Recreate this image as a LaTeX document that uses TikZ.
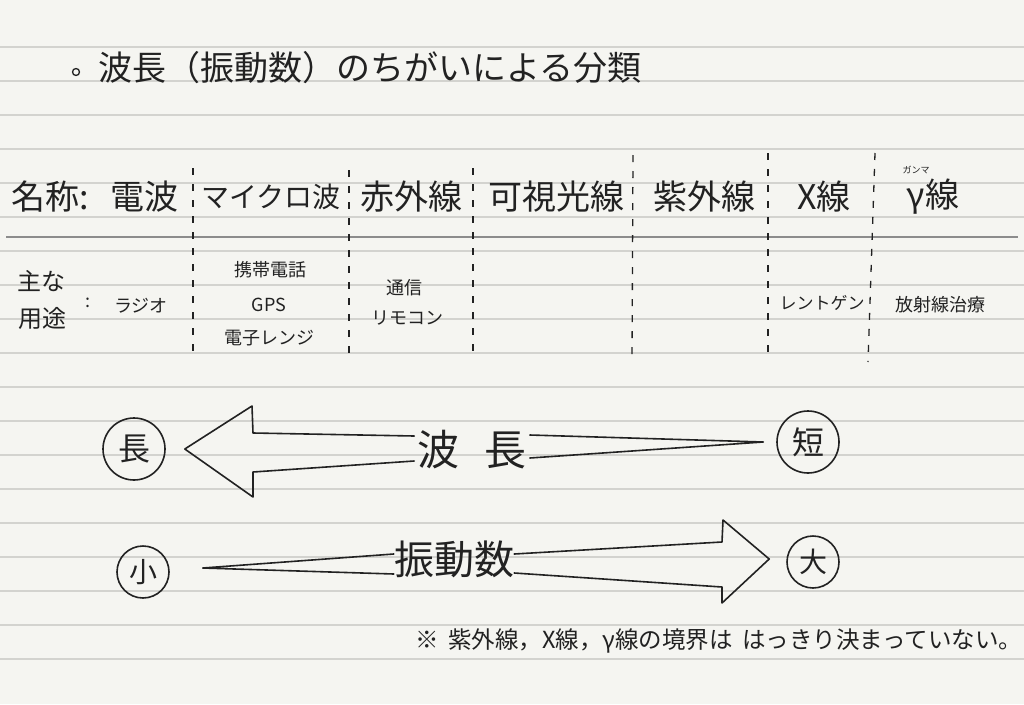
\documentclass[tikz,border=0pt]{standalone}
\usepackage{fontspec}
\setmainfont{Noto Sans CJK JP}
\definecolor{paper}{HTML}{F5F5F1}
\definecolor{ruling}{HTML}{D3D3CF}
\definecolor{ink}{HTML}{222222}

\begin{document}
\begin{tikzpicture}[x=1pt,y=-1pt,
  pen/.style={draw=ink,line width=1.6pt,line join=round,line cap=round},
  head/.style={text=ink,inner sep=0pt,font=\fontsize{34}{40}\selectfont},
  usage/.style={text=ink,inner sep=0pt,font=\fontsize{18}{22}\selectfont},
  ring/.style={circle,pen,inner sep=0pt,minimum size=62pt,text=ink,font=\fontsize{32}{34}\selectfont},
  big/.style={text=ink,inner ysep=0pt,font=\fontsize{42}{46}\selectfont}]

  % paper
  \fill[paper] (0,0) rectangle (1024,704);
  \useasboundingbox (0,0) rectangle (1024,704);
  \foreach \k in {0,...,18}
    \draw[ruling,line width=1.2pt] (0,{47+34*\k}) -- (1024,{47+34*\k});

  % title
  \node[circle,draw=ink,line width=1.3pt,minimum size=7pt,inner sep=0pt] (bullet) at (76,72) {};
  \node[anchor=west,text=ink,inner sep=0pt,font=\fontsize{34}{38}\selectfont] (title) at (98,68) {波長（振動数）のちがいによる分類};

  % table
  \draw[color=black!45,line width=2pt] (6,237) -- (1018,237);
  \foreach \xa/\ya/\xb/\yb in {193/168/193/353, 349/170/349/357, 473/168/473/355,
                               633/155/632/360, 768/153/768/355, 875/153/868/362}
    \draw[ink,line width=1.3pt,dash pattern=on 7pt off 9pt] (\xa,\ya) -- (\xb,\yb);

  \node[head] (name) at (50,197) {名称:};
  \node[head] (radio) at (144,197) {電波};
  \node[head,font=\fontsize{28}{32}\selectfont] (micro) at (271,197) {マイクロ波};
  \node[head] (ir) at (411,197) {赤外線};
  \node[head] (vis) at (556,197) {可視光線};
  \node[head] (uv) at (704,197) {紫外線};
  \node[head] (xray) at (824,197) {X線};
  \node[head] (gamma) at (933,197) {γ線};
  \node[usage,font=\fontsize{9}{10}\selectfont] (gruby) at (916,170) {ガンマ};

  \node[usage,font=\fontsize{24}{26}\selectfont] (main) at (41,281) {主な};
  \node[usage,font=\fontsize{24}{26}\selectfont] (purpose) at (42,318) {用途};
  \node[usage] (colon) at (88,303) {:};
  \node[usage] (radiouse) at (141,306) {ラジオ};
  \node[usage] (phone) at (270,270) {携帯電話};
  \node[usage] (gps) at (269,305) {GPS};
  \node[usage] (oven) at (269,338) {電子レンジ};
  \node[usage] (comm) at (404,288) {通信};
  \node[usage] (remote) at (407,318) {リモコン};
  \node[usage,font=\fontsize{17}{20}\selectfont] (xuse) at (822,303) {レントゲン};
  \node[usage] (gammause) at (940,305) {放射線治療};

  % wavelength / frequency
  \node[ring] (long) at (134,449) {長};
  \node[ring] (short) at (808,442) {短};
  \node[ring,minimum size=52pt,font=\fontsize{28}{30}\selectfont] (low) at (143,572) {小};
  \node[ring,minimum size=52pt,font=\fontsize{28}{30}\selectfont] (high) at (813,562) {大};

  \node[big,inner xsep=3pt] (wavelen) at (472,450) {波\hspace{0.6em}長};
  \node[big,inner xsep=0pt,font=\fontsize{40}{44}\selectfont] (freq) at (454,559) {振動数};

  \draw[pen] ([yshift=14]wavelen.west) -- (253,433) -- (252,406) -- ([xshift=19]long.east)
    -- (253,497) -- (253,472) -- ([yshift=-11]wavelen.west);
  \draw[pen] ([yshift=15]wavelen.east) -- ([xshift=-13]short.west) -- ([yshift=-8]wavelen.east);

  \draw[pen] ([yshift=5]freq.west) -- ([xshift=33,yshift=4]low.east) -- ([yshift=-15]freq.west);
  \draw[pen] ([yshift=5]freq.east) -- (722,542) -- (723,520) -- ([xshift=-17,yshift=3]high.west)
    -- (722,603) -- (722,587) -- ([yshift=-14]freq.east);

  % note
  \node[anchor=west,text=ink,inner sep=0pt,font=\fontsize{23.5}{26}\selectfont] (note) at (415,641)
    {※\hspace{0.4em}紫外線，X線，γ線の境界は\hspace{0.4em}はっきり決まっていない。};

\end{tikzpicture}
\end{document}
